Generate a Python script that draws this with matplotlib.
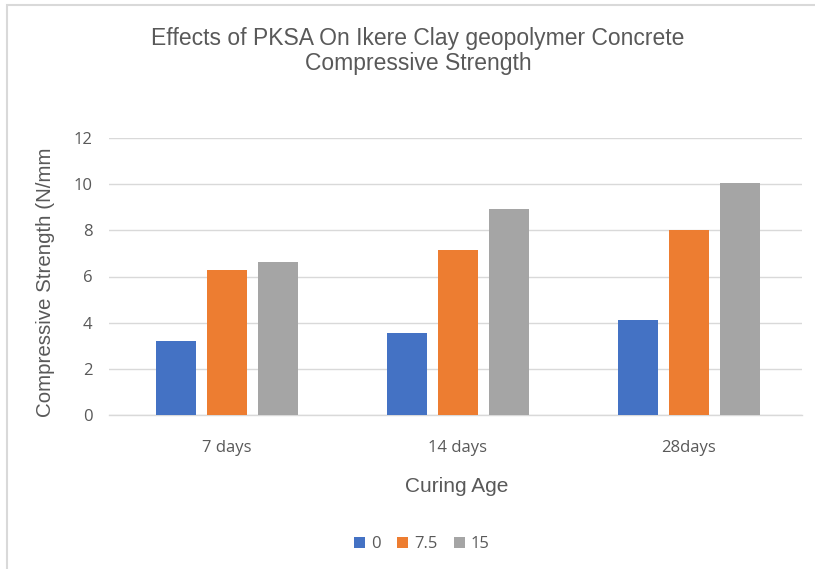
import numpy as np
import matplotlib
matplotlib.use('Agg')
import matplotlib.pyplot as plt
from matplotlib.patches import Rectangle

# data
categories = ['7 days', '14 days', '28days']
series_names = ['0', '7.5', '15']
pksa_0 = [3.20, 3.54, 4.10]
pksa_7_5 = [6.28, 7.14, 8.01]
pksa_15 = [6.62, 8.92, 10.03]
colors = ['#4472C4', '#ED7D31', '#A5A5A5']

text_color = '#595959'
grid_color = '#D9D9D9'

fig = plt.figure(figsize=(8.15, 5.69), dpi=100)
fig.patch.set_facecolor('white')

# outer chart border (left and top visible in the reference)
fig.patches.append(Rectangle((7 / 815, -0.1), 1.2, 1 - 5 / 569 + 0.1,
                             transform=fig.transFigure, fill=False,
                             edgecolor=grid_color, linewidth=1.5))

ax = fig.add_axes([109 / 815, 1 - 415 / 569, (802 - 109) / 815, (415 - 138) / 569])

x = np.arange(len(categories))
width = 0.171
offset = 0.221
for i, (vals, name) in enumerate(zip([pksa_0, pksa_7_5, pksa_15], series_names)):
    ax.bar(x + (i - 1) * offset, vals, width, color=colors[i], label=name, zorder=3)

ax.set_xlim(-0.51, 2.49)
ax.set_ylim(0, 12)
ax.set_yticks(range(0, 13, 2))
ax.set_xticks(x)
ax.set_xticklabels(categories)
ax.yaxis.grid(True, color=grid_color, linewidth=1, zorder=0)
ax.set_axisbelow(True)
for s in ['top', 'right', 'left']:
    ax.spines[s].set_visible(False)
ax.spines['bottom'].set_color(grid_color)
ax.spines['bottom'].set_linewidth(1)
ax.tick_params(axis='both', length=0, colors=text_color)
ax.tick_params(axis='x', pad=18)
ax.tick_params(axis='y', pad=12)
for lbl in ax.get_xticklabels() + ax.get_yticklabels():
    lbl.set_family('Open Sans')
    lbl.set_fontsize(12)

fig.text(46 / 815, 1 - 282 / 569, 'Compressive Strength (N/mm', rotation=90,
         ha='center', va='center', fontsize=14.8, color=text_color,
         family='Liberation Sans')
fig.text(457 / 815, 1 - 487 / 569, 'Curing Age', ha='center', va='center',
         fontsize=15, color=text_color, family='Liberation Sans')
fig.text(418 / 815, 1 - 51 / 569,
         'Effects of PKSA On Ikere Clay geopolymer Concrete\nCompressive Strength',
         ha='center', va='center', fontsize=16.5, color=text_color,
         family='Liberation Sans', linespacing=1.15)

leg = fig.legend(loc='center', bbox_to_anchor=(422 / 815, 1 - 544 / 569), ncol=3,
                 frameon=False, handlelength=0.65, handleheight=0.65,
                 handletextpad=0.35, columnspacing=1.0,
                 prop={'family': 'Open Sans', 'size': 12})
for t in leg.get_texts():
    t.set_color(text_color)

plt.savefig('out.png', dpi=100)
